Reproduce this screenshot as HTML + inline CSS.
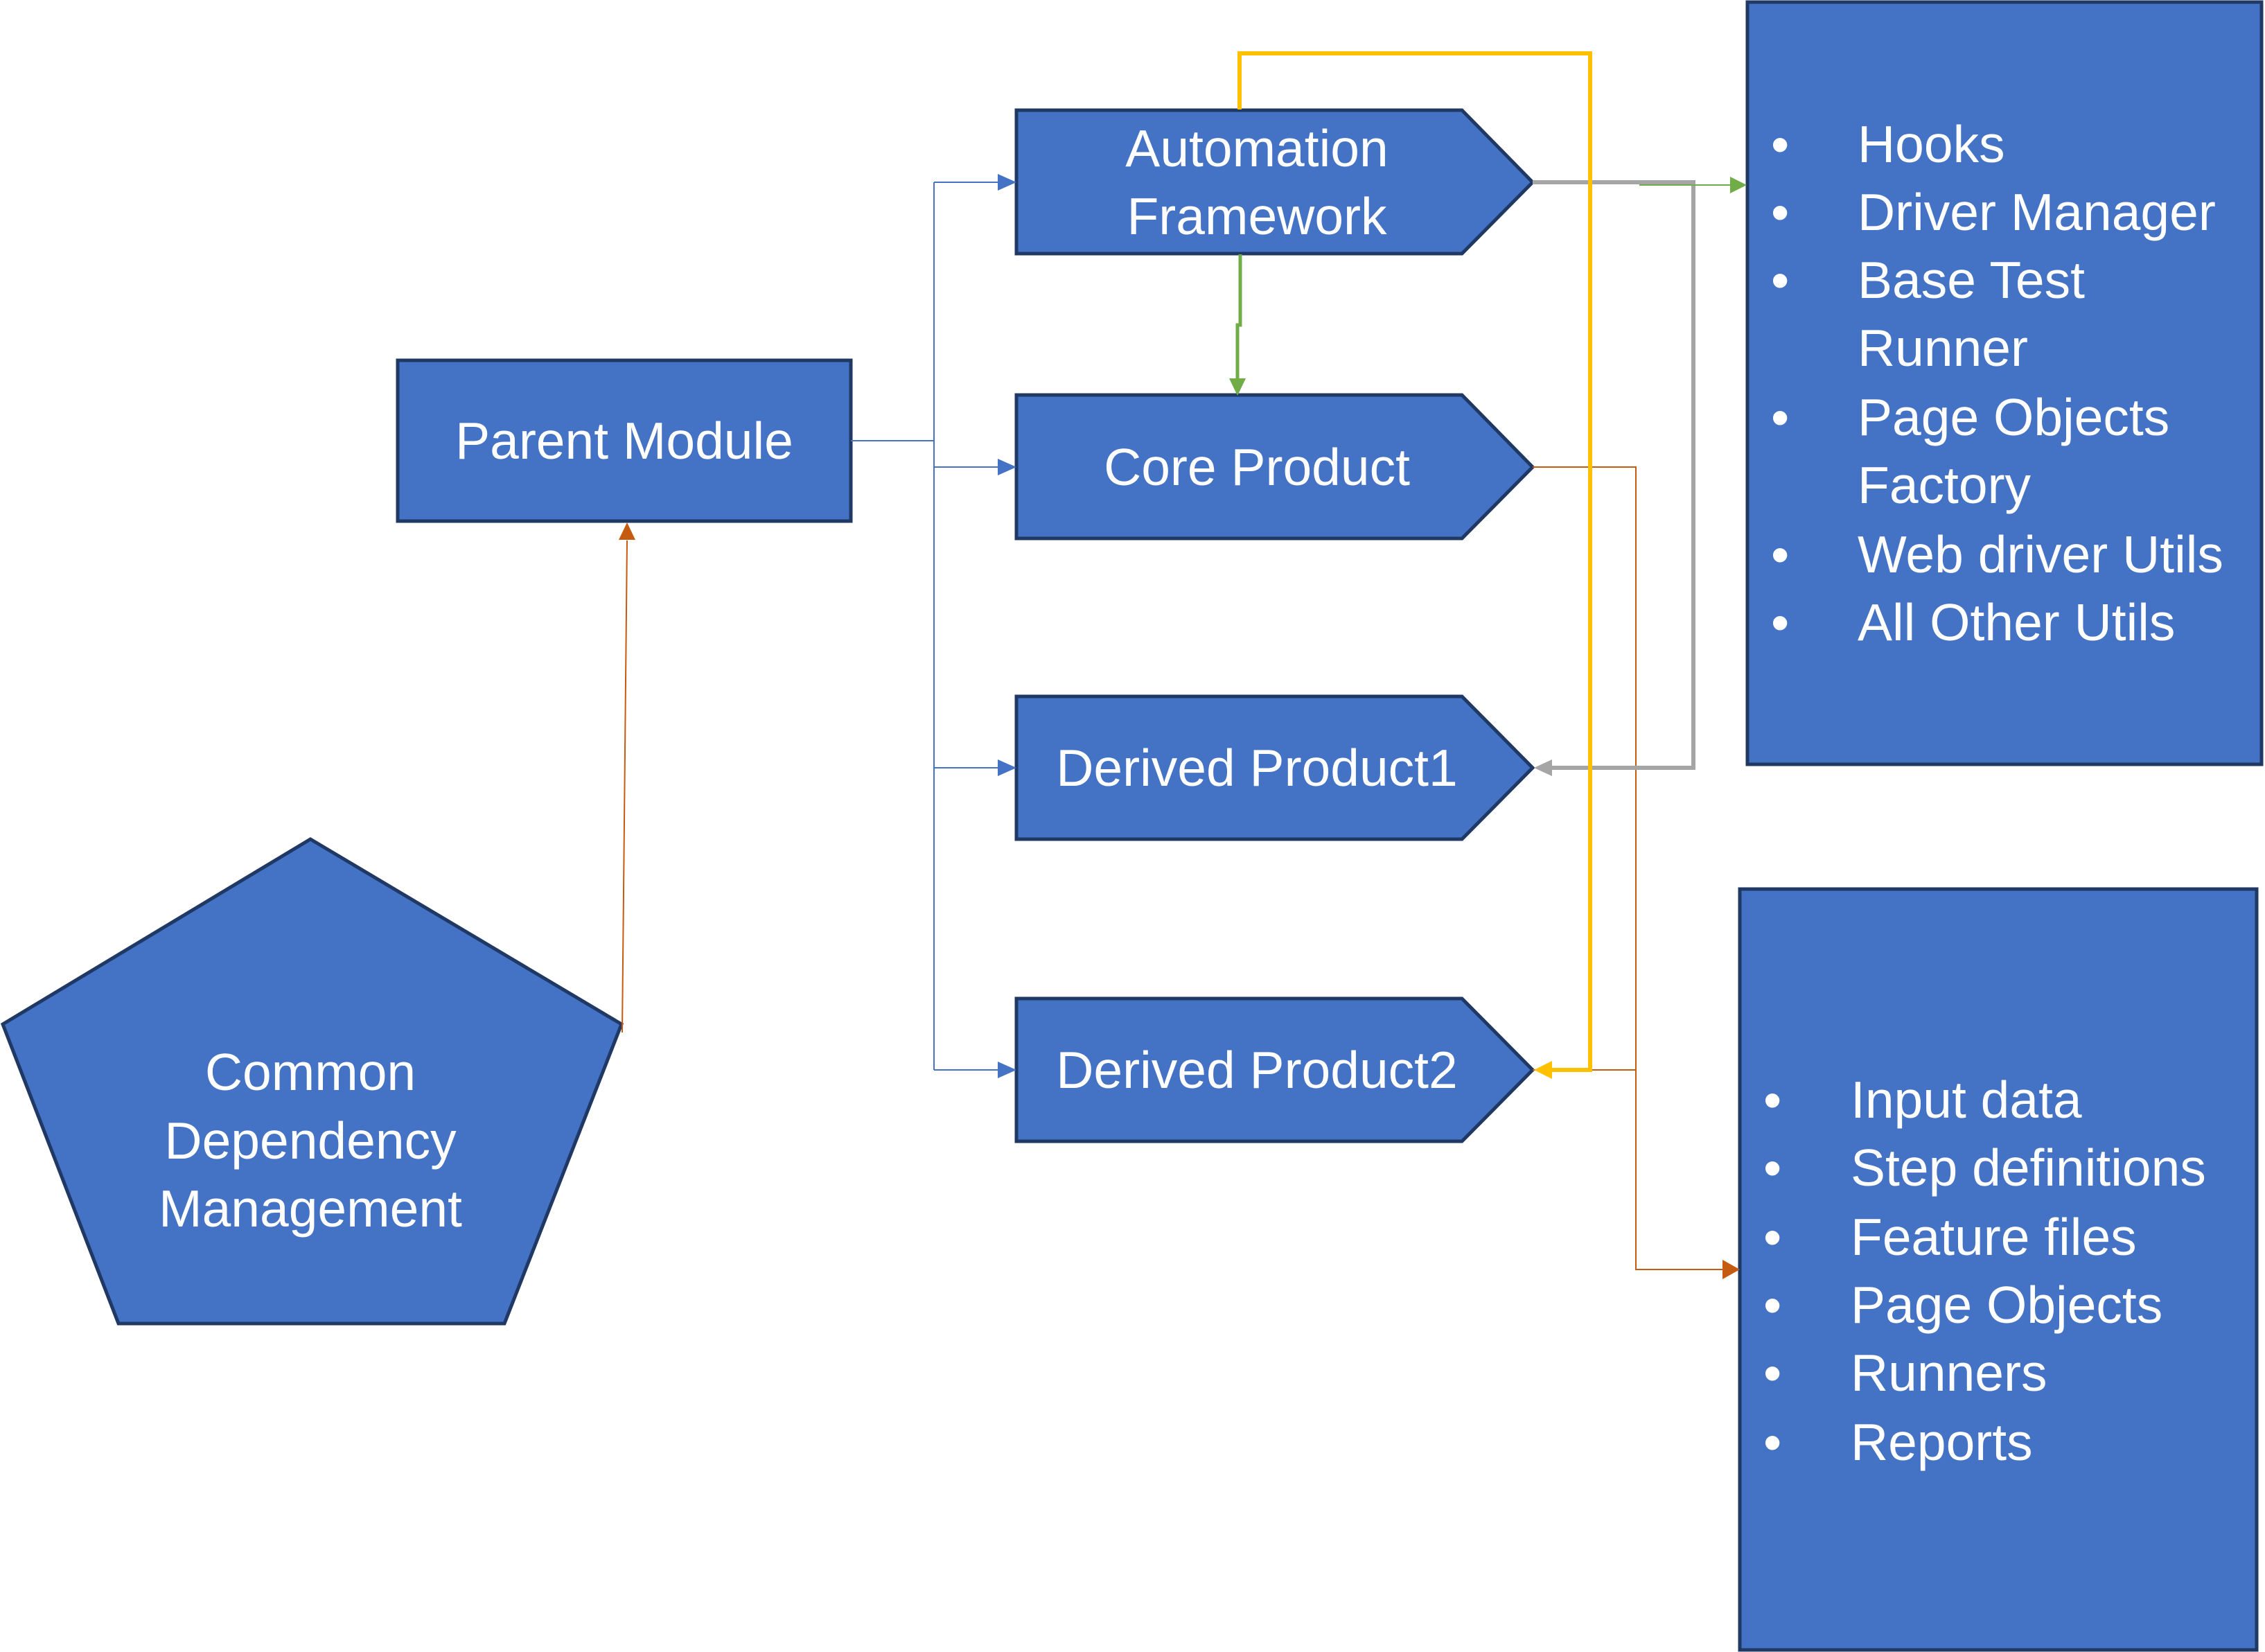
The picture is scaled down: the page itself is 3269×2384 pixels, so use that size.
<!DOCTYPE html>
<html><head><meta charset="utf-8"><style>
html,body{margin:0;padding:0;background:#fff;width:3269px;height:2384px;overflow:hidden}
svg{display:block}
text{font-family:"Liberation Sans",sans-serif;fill:#fff;font-size:75px}
</style></head><body>
<svg width="3269" height="2384" viewBox="0 0 3269 2384" xmlns="http://www.w3.org/2000/svg">
<g stroke="#1f3864" stroke-width="5" fill="#4472c4">
<rect x="574" y="520" width="654" height="232"/>
<polygon points="448,1211 4,1478 171,1910 728,1910 897,1478"/>
<polygon points="1467,159 2110,159 2212,263 2110,366 1467,366"/>
<polygon points="1467,570 2110,570 2212,674 2110,777 1467,777"/>
<polygon points="1467,1005 2110,1005 2212,1108 2110,1211 1467,1211"/>
<polygon points="1467,1441 2110,1441 2212,1544 2110,1647 1467,1647"/>
<rect x="2522" y="3" width="742" height="1100"/>
<rect x="2511" y="1283" width="746" height="1098"/>
</g>
<g stroke="#4472c4" stroke-width="2" fill="none">
<polyline points="1228,636 1348,636"/>
<polyline points="1348,263 1348,1544"/>
<line x1="1348" y1="263" x2="1446" y2="263"/>
<line x1="1348" y1="674" x2="1446" y2="674"/>
<line x1="1348" y1="1108" x2="1446" y2="1108"/>
<line x1="1348" y1="1544" x2="1446" y2="1544"/>
</g>
<g fill="#4472c4">
<path d="M1440,251 L1467,263 L1440,275Z"/>
<path d="M1440,662 L1467,674 L1440,686Z"/>
<path d="M1440,1096 L1467,1108 L1440,1120Z"/>
<path d="M1440,1532 L1467,1544 L1440,1556Z"/>
</g>
<line x1="898" y1="1490" x2="905" y2="780" stroke="#c55a11" stroke-width="2"/>
<path d="M893,779 L905,754 L917,779Z" fill="#c55a11"/>
<polyline points="2212,674 2361,674 2361,1832 2490,1832" stroke="#c55a11" stroke-width="2" fill="none"/>
<line x1="2212" y1="1544" x2="2361" y2="1544" stroke="#c55a11" stroke-width="2"/>
<path d="M2486,1818 L2511,1832 L2486,1846Z" fill="#c55a11"/>
<polyline points="2212,263 2444,263 2444,1108 2240,1108" stroke="#a5a5a5" stroke-width="6" fill="none"/>
<path d="M2240,1096 L2214,1108 L2240,1120Z" fill="#a5a5a5"/>
<line x1="2366" y1="267" x2="2500" y2="267" stroke="#70ad47" stroke-width="2"/>
<path d="M2497,255 L2521,267 L2497,279Z" fill="#70ad47"/>
<polyline points="1790,367 1790,469 1786,469 1786,550" stroke="#70ad47" stroke-width="5" fill="none"/>
<path d="M1774,546 L1786,571 L1798,546Z" fill="#70ad47"/>
<polyline points="1789,158 1789,77 2295,77 2295,1544 2240,1544" stroke="#ffc000" stroke-width="6" fill="none"/>
<path d="M2240,1531 L2214,1544 L2240,1557Z" fill="#ffc000"/>
<g text-anchor="middle">
<text x="901" y="662">Parent Module</text>
<text x="1814" y="240">Automation</text>
<text x="1814" y="338">Framework</text>
<text x="1814" y="700">Core Product</text>
<text x="1814" y="1134">Derived Product1</text>
<text x="1814" y="1570">Derived Product2</text>
<text x="448" y="1573">Common</text>
<text x="448" y="1672">Dependency</text>
<text x="448" y="1770">Management</text>
</g>
<g>
<text x="2556" y="234">•</text><text x="2681" y="234">Hooks</text>
<text x="2556" y="332">•</text><text x="2681" y="332">Driver Manager</text>
<text x="2556" y="430">•</text><text x="2681" y="430">Base Test</text>
<text x="2681" y="528">Runner</text>
<text x="2556" y="628">•</text><text x="2681" y="628">Page Objects</text>
<text x="2681" y="726">Factory</text>
<text x="2556" y="826">•</text><text x="2681" y="826">Web driver Utils</text>
<text x="2556" y="924">•</text><text x="2681" y="924">All Other Utils</text>
<text x="2545" y="1613">•</text><text x="2671" y="1613">Input data</text>
<text x="2545" y="1711">•</text><text x="2671" y="1711">Step definitions</text>
<text x="2545" y="1811">•</text><text x="2671" y="1811">Feature files</text>
<text x="2545" y="1909">•</text><text x="2671" y="1909">Page Objects</text>
<text x="2545" y="2007">•</text><text x="2671" y="2007">Runners</text>
<text x="2545" y="2107">•</text><text x="2671" y="2107">Reports</text>
</g>
</svg>
</body></html>
